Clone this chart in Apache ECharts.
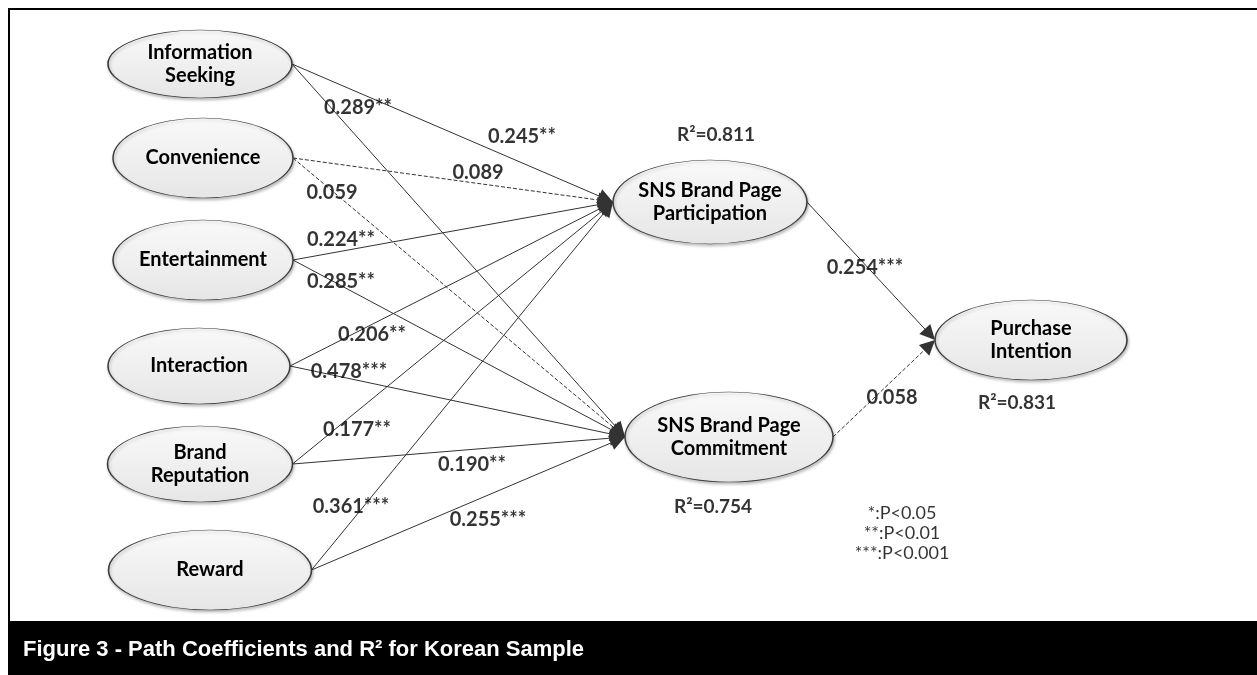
<!DOCTYPE html>
<html>
<head>
<meta charset="utf-8">
<script src="https://cdn.jsdelivr.net/npm/echarts@6/dist/echarts.min.js"></script>
<style>
  html, body { margin: 0; padding: 0; background: #fff; }
  #chart { width: 1257px; height: 675px; }
</style>
</head>
<body>
<div id="chart"></div>
<script>
// constructs of the model
const constructs = ['Information Seeking', 'Convenience', 'Entertainment', 'Interaction', 'Brand Reputation', 'Reward',
  'SNS Brand Page Participation', 'SNS Brand Page Commitment', 'Purchase Intention'];
const constructLabels = ['Information\nSeeking', 'Convenience', 'Entertainment', 'Interaction', 'Brand\nReputation', 'Reward',
  'SNS Brand Page\nParticipation', 'SNS Brand Page\nCommitment', 'Purchase\nIntention'];

// structural paths
const pathFrom = ['Information Seeking', 'Information Seeking', 'Convenience', 'Convenience', 'Entertainment', 'Entertainment',
  'Interaction', 'Interaction', 'Brand Reputation', 'Brand Reputation', 'Reward', 'Reward',
  'SNS Brand Page Participation', 'SNS Brand Page Commitment'];
const pathTo = ['SNS Brand Page Participation', 'SNS Brand Page Commitment', 'SNS Brand Page Participation', 'SNS Brand Page Commitment',
  'SNS Brand Page Participation', 'SNS Brand Page Commitment', 'SNS Brand Page Participation', 'SNS Brand Page Commitment',
  'SNS Brand Page Participation', 'SNS Brand Page Commitment', 'SNS Brand Page Participation', 'SNS Brand Page Commitment',
  'Purchase Intention', 'Purchase Intention'];
const pathCoef = ['0.245**', '0.289**', '0.089', '0.059', '0.224**', '0.285**', '0.206**', '0.478***',
  '0.177**', '0.190**', '0.361***', '0.255***', '0.254***', '0.058'];
const pathSignificant = [1, 1, 0, 0, 1, 1, 1, 1, 1, 1, 1, 1, 1, 0];

// explained variance
const r2Targets = ['SNS Brand Page Participation', 'SNS Brand Page Commitment', 'Purchase Intention'];
const r2Values = ['0.811', '0.754', '0.831'];

const legendLines = ['*:P<0.05', '**:P<0.01', '***:P<0.001'];
const figureTitle = 'Figure 3 - Path Coefficients and R² for Korean Sample';

// ---- layout (canvas pixel units) ----
// cx, cy, width, height of each ellipse
const nodeBox = {
  'Information Seeking': [200, 64, 184, 68],
  'Convenience': [203, 158, 180, 80],
  'Entertainment': [203, 260, 180, 80],
  'Interaction': [199, 366, 182, 76],
  'Brand Reputation': [200, 464, 185, 76],
  'Reward': [210, 570, 203, 80],
  'SNS Brand Page Participation': [710, 202, 194, 84],
  'SNS Brand Page Commitment': [729, 437, 208, 90],
  'Purchase Intention': [1031, 340, 192, 80]
};
const coefPos = [[522, 137], [358, 108], [478, 173], [332, 193], [341, 240], [341, 282], [372, 335], [349, 372],
  [357, 430], [472, 465], [351, 507], [488, 520], [865, 268], [892, 398]];
const r2Pos = [[716, 135], [713, 507], [1017, 403]];
const legendPos = [902, 533];
const arrowSize = [11, 15];

const chart = echarts.init(document.getElementById('chart'));

const nodeData = constructs.map(function (c, i) {
  const b = nodeBox[c];
  return { name: constructLabels[i], value: [b[0], b[1]], symbolSize: [b[2], b[3]] };
});

const lineData = pathFrom.map(function (from, i) {
  const s = nodeBox[from];
  const t = nodeBox[pathTo[i]];
  const p1 = [s[0] + s[2] / 2, s[1]];
  const tip = [t[0] - t[2] / 2, t[1]];
  const dx = tip[0] - p1[0], dy = tip[1] - p1[1];
  const len = Math.sqrt(dx * dx + dy * dy);
  const back = arrowSize[1] / 2;
  const p2 = [tip[0] - dx / len * back, tip[1] - dy / len * back];
  return {
    coords: [p1, p2],
    lineStyle: { type: pathSignificant[i] ? 'solid' : [4, 2] }
  };
});

const coefData = pathCoef.map(function (c, i) {
  return { name: c, value: coefPos[i] };
});
const r2Data = r2Values.map(function (v, i) {
  return { name: 'R²=' + v, value: r2Pos[i] };
});

const option = {
  animation: false,
  backgroundColor: '#fff',
  title: {
    text: figureTitle,
    left: 18,
    top: 634,
    textStyle: {
      color: '#fff',
      fontFamily: 'Liberation Sans',
      fontWeight: 'bold',
      fontSize: 22
    }
  },
  graphic: [
    {
      type: 'rect',
      shape: { x: 8, y: 622, width: 1249, height: 53 },
      style: { fill: '#000' },
      z: 0
    },
    {
      type: 'rect',
      shape: { x: 9, y: 9, width: 1260, height: 613 },
      style: { fill: null, stroke: '#000', lineWidth: 2 },
      z: 0
    }
  ],
  grid: { left: 0, right: 0, top: 0, bottom: 0 },
  xAxis: { type: 'value', min: 0, max: 1257, show: false },
  yAxis: { type: 'value', min: 0, max: 675, inverse: true, show: false },
  series: [
    {
      name: 'paths',
      type: 'lines',
      coordinateSystem: 'cartesian2d',
      symbol: ['none', 'triangle'],
      symbolSize: arrowSize,
      lineStyle: { color: '#333', width: 1, opacity: 1 },
      data: lineData,
      z: 2
    },
    {
      name: 'constructs',
      type: 'scatter',
      symbol: 'circle',
      itemStyle: {
        color: {
          type: 'linear', x: 0, y: 0, x2: 0, y2: 1,
          colorStops: [{ offset: 0, color: '#f9f9f9' }, { offset: 1, color: '#e6e6e6' }]
        },
        borderColor: '#3c3c3c',
        borderWidth: 1,
        shadowColor: 'rgba(0,0,0,0.25)',
        shadowBlur: 3,
        shadowOffsetX: 1,
        shadowOffsetY: 2,
        opacity: 1
      },
      label: {
        show: true,
        position: 'inside',
        formatter: '{b}',
        color: '#000',
        fontFamily: 'Lato',
        fontWeight: 'bold',
        fontSize: 20,
        lineHeight: 23
      },
      emphasis: { disabled: true },
      data: nodeData,
      z: 3
    },
    {
      name: 'coefficients',
      type: 'scatter',
      symbolSize: 1,
      itemStyle: { color: 'rgba(0,0,0,0)' },
      label: {
        show: true,
        position: 'inside',
        formatter: '{b}',
        color: '#000',
        fontFamily: 'Lato',
        fontWeight: 'bold',
        fontSize: 20
      },
      emphasis: { disabled: true },
      data: coefData,
      z: 4
    },
    {
      name: 'r2',
      type: 'scatter',
      symbolSize: 1,
      itemStyle: { color: 'rgba(0,0,0,0)' },
      label: {
        show: true,
        position: 'inside',
        formatter: '{b}',
        color: '#000',
        fontFamily: 'Lato',
        fontWeight: 'bold',
        fontSize: 19
      },
      emphasis: { disabled: true },
      data: r2Data,
      z: 4
    },
    {
      name: 'significance',
      type: 'scatter',
      symbolSize: 1,
      itemStyle: { color: 'rgba(0,0,0,0)' },
      label: {
        show: true,
        position: 'inside',
        formatter: '{b}',
        color: '#000',
        fontFamily: 'Lato',
        fontSize: 18,
        lineHeight: 20,
        align: 'center'
      },
      emphasis: { disabled: true },
      data: [{ name: legendLines.join('\n'), value: legendPos }],
      z: 4
    }
  ]
};

chart.setOption(option);
</script>
</body>
</html>
